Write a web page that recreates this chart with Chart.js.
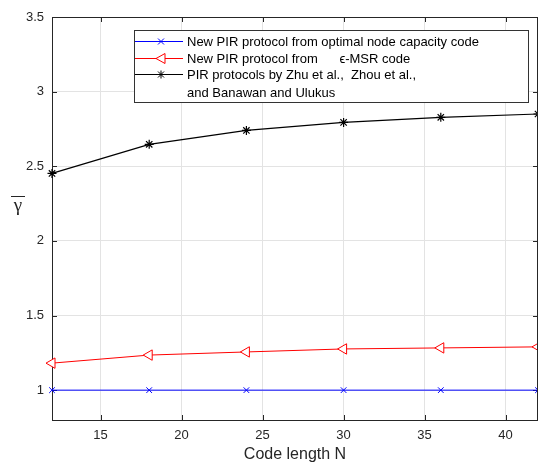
<!DOCTYPE html>
<html>
<head>
<meta charset="utf-8">
<script src="https://cdn.jsdelivr.net/npm/chart.js@4/dist/chart.umd.min.js"></script>
<style>
  html, body { margin: 0; padding: 0; background: #fff; }
  #wrap { width: 538px; height: 464px; }
</style>
</head>
<body>
<div id="wrap"><canvas id="pirChart" width="538" height="464"></canvas></div>
<script>
// data
const codeLength = [12, 18, 24, 30, 36, 42];
const optimalNode = [1, 1, 1, 1, 1, 1];
const epsMsr = [1.181, 1.235, 1.256, 1.276, 1.283, 1.29];
const priorWork = [2.452, 2.647, 2.74, 2.794, 2.828, 2.85];
const xTicks = [15, 20, 25, 30, 35, 40];
const yTicks = [1, 1.5, 2, 2.5, 3, 3.5];

const legendItems = [
  { lines: ['New PIR protocol from optimal node capacity code'], color: '#0000ff', marker: 'x' },
  { lines: ['New PIR protocol from      \u03F5-MSR code'], color: '#ff0000', marker: 'tri' },
  { lines: ['PIR protocols by Zhu et al.,  Zhou et al.,', 'and Banawan and Ulukus'], color: '#000000', marker: 'star' }
];

function drawMarker(c, kind, x, y, color) {
  c.save();
  c.strokeStyle = color;
  c.lineWidth = 1;
  c.beginPath();
  if (kind === 'x') {
    c.moveTo(x - 3, y - 3); c.lineTo(x + 3, y + 3);
    c.moveTo(x - 3, y + 3); c.lineTo(x + 3, y - 3);
  } else if (kind === 'tri') {
    c.moveTo(x - 5, y); c.lineTo(x + 4, y - 5); c.lineTo(x + 4, y + 5); c.closePath();
    c.fillStyle = '#fff';
    c.fill();
  } else {
    c.moveTo(x - 4, y); c.lineTo(x + 4, y);
    c.moveTo(x, y - 4); c.lineTo(x, y + 4);
    c.moveTo(x - 3, y - 3); c.lineTo(x + 3, y + 3);
    c.moveTo(x - 3, y + 3); c.lineTo(x + 3, y - 3);
  }
  c.stroke();
  c.restore();
}

const decorations = {
  id: 'decorations',
  beforeDatasetsDraw(chart) {
    // MATLAB style inward tick marks
    const c = chart.ctx;
    const a = chart.chartArea;
    const sx = chart.scales.x, sy = chart.scales.y;
    c.save();
    c.strokeStyle = '#262626';
    c.lineWidth = 1;
    c.beginPath();
    yTicks.forEach(v => {
      const y = Math.round(sy.getPixelForValue(v)) + 0.5;
      c.moveTo(a.left, y); c.lineTo(a.left + 5, y);
      c.moveTo(a.right, y); c.lineTo(a.right - 5, y);
    });
    xTicks.forEach(v => {
      const x = Math.round(sx.getPixelForValue(v)) + 0.5;
      c.moveTo(x, a.bottom); c.lineTo(x, a.bottom - 5);
      c.moveTo(x, a.top); c.lineTo(x, a.top + 5);
    });
    c.stroke();
    c.restore();
  },
  afterDatasetsDraw(chart) {
    const c = chart.ctx;
    const a = chart.chartArea;
    c.save();
    // top and right box lines
    c.strokeStyle = '#262626';
    c.lineWidth = 1;
    c.beginPath();
    c.moveTo(a.left, a.top + 0.5); c.lineTo(a.right, a.top + 0.5);
    c.moveTo(a.right - 0.5, a.top); c.lineTo(a.right - 0.5, a.bottom);
    c.stroke();

    // legend box
    c.fillStyle = '#fff';
    c.fillRect(134, 30, 394, 72);
    c.strokeStyle = '#333';
    c.strokeRect(134.5, 30.5, 394, 72);
    const rowY = [41, 58, 74];
    c.font = '13px "Liberation Sans", Arial, sans-serif';
    c.textBaseline = 'middle';
    legendItems.forEach((it, i) => {
      const y = rowY[i];
      c.strokeStyle = it.color;
      c.beginPath();
      c.moveTo(135, y + 0.5); c.lineTo(183, y + 0.5);
      c.stroke();
      drawMarker(c, it.marker, 161, y + 0.5, it.color);
      c.fillStyle = '#000';
      it.lines.forEach((t, j) => c.fillText(t, 187, y + 1 + j * 18));
    });

    // y label: gamma with overline
    c.fillStyle = '#262626';
    c.font = '19px "Liberation Serif", serif';
    c.textAlign = 'center';
    c.textBaseline = 'alphabetic';
    c.fillText('\u03B3', 18, 211);
    c.strokeStyle = '#262626';
    c.beginPath();
    c.moveTo(11, 196.5); c.lineTo(25, 196.5);
    c.stroke();

    // x label
    c.font = '16px "Liberation Sans", Arial, sans-serif';
    c.textBaseline = 'middle';
    c.fillText('Code length N', (a.left + a.right) / 2, 455);
    c.restore();
  }
};

const ctx = document.getElementById('pirChart').getContext('2d');
const tickFont = { family: '"Liberation Sans", Arial, sans-serif', size: 13 };

new Chart(ctx, {
  type: 'line',
  data: {
    labels: codeLength,
    datasets: [
      {
        label: legendItems[0].lines[0],
        data: codeLength.map((x, i) => ({ x: x, y: optimalNode[i] })),
        borderColor: '#0000ff',
        backgroundColor: '#0000ff',
        borderWidth: 1,
        pointStyle: 'crossRot',
        pointRadius: 4,
        pointBorderWidth: 1,
        clip: false
      },
      {
        label: legendItems[1].lines[0],
        data: codeLength.map((x, i) => ({ x: x, y: epsMsr[i] })),
        borderColor: '#ff0000',
        backgroundColor: '#ffffff',
        borderWidth: 1,
        pointStyle: 'triangle',
        pointRotation: -90,
        pointRadius: 6,
        pointBorderWidth: 1,
        clip: false
      },
      {
        label: legendItems[2].lines.join(' '),
        data: codeLength.map((x, i) => ({ x: x, y: priorWork[i] })),
        borderColor: '#000000',
        backgroundColor: '#000000',
        borderWidth: 1.2,
        pointStyle: 'star',
        pointRadius: 4.5,
        pointBorderWidth: 1.2,
        clip: false
      }
    ]
  },
  options: {
    responsive: false,
    animation: false,
    layout: { autoPadding: false, padding: { top: 17, right: 0, left: 0, bottom: 0 } },
    plugins: {
      legend: { display: false },
      tooltip: { enabled: false }
    },
    scales: {
      x: {
        type: 'linear',
        min: 12,
        max: 42,
        afterBuildTicks: s => { s.ticks = xTicks.map(v => ({ value: v })); },
        afterFit: s => { s.height = 44; s.paddingLeft = 0; s.paddingRight = 0; },
        grid: { color: '#e3e3e3', drawTicks: false },
        border: { color: '#262626' },
        ticks: { padding: 8, color: '#262626', font: tickFont, callback: v => String(v) }
      },
      y: {
        type: 'linear',
        min: 0.8,
        max: 3.5,
        afterBuildTicks: s => { s.ticks = yTicks.map(v => ({ value: v })); },
        afterFit: s => { s.width = 52; s.paddingTop = 0; s.paddingBottom = 0; },
        grid: { color: '#e3e3e3', drawTicks: false },
        border: { color: '#262626' },
        ticks: { padding: 8, color: '#262626', font: tickFont, callback: v => String(v) }
      }
    }
  },
  plugins: [decorations]
});
</script>
</body>
</html>
